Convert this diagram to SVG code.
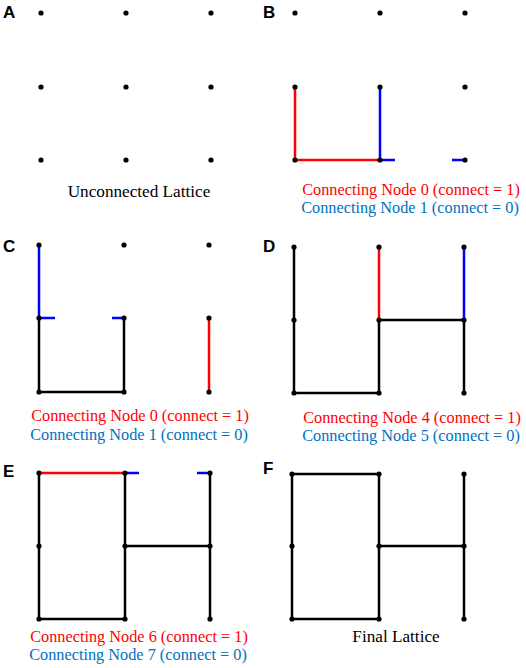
<svg xmlns="http://www.w3.org/2000/svg" width="526" height="668" viewBox="0 0 526 668">
<style>
.lbl{font-family:"Liberation Sans",Arial,sans-serif;font-weight:bold;font-size:17px;fill:#000}
.cap{font-family:"Liberation Serif","Times New Roman",serif;font-size:16.3px;text-anchor:middle}
.big{font-size:17.2px}
.r{fill:#ff0000}.b{fill:#0070c0}.k{fill:#000}
.e{stroke-width:2.5;stroke-linecap:butt;fill:none}
.ek{stroke:#000}.er{stroke:#ff0000}.eb{stroke:#0000ff}
.d{fill:#000}
</style>
<defs><circle id="dot" r="2.6" class="d"/></defs>
<g id="panelA">
<text class="lbl" x="3" y="18">A</text>
<g id="nodesA">
<use href="#dot" x="41" y="13"/><use href="#dot" x="126" y="13"/><use href="#dot" x="211" y="13"/>
<use href="#dot" x="41" y="87"/><use href="#dot" x="126" y="87"/><use href="#dot" x="211" y="87"/>
<use href="#dot" x="41" y="160"/><use href="#dot" x="126" y="160"/><use href="#dot" x="211" y="160"/>
</g>
<text class="cap big k" x="139" y="197">Unconnected Lattice</text>
</g>
<g id="panelB">
<text class="lbl" x="263" y="18">B</text>
<g id="connectorsB">
<polyline class="e er" points="295,87 295,160 380,160"/>
<polyline class="e eb" points="380,87 380,160 395,160"/>
<line class="e eb" x1="452" y1="160" x2="465" y2="160"/>
</g>
<g id="nodesB">
<use href="#dot" x="295" y="13"/><use href="#dot" x="380" y="13"/><use href="#dot" x="465" y="13"/>
<use href="#dot" x="295" y="87"/><use href="#dot" x="380" y="87"/><use href="#dot" x="465" y="87"/>
<use href="#dot" x="295" y="160"/><use href="#dot" x="380" y="160"/><use href="#dot" x="465" y="160"/>
</g>
<text class="cap r" x="411" y="195">Connecting Node 0 (connect = 1)</text>
<text class="cap b" x="410" y="213">Connecting Node 1 (connect = 0)</text>
</g>
<g id="panelC">
<text class="lbl" x="3" y="252">C</text>
<g id="connectorsC">
<polyline class="e eb" points="39,245 39,318 55,318"/>
<line class="e eb" x1="112" y1="318" x2="124" y2="318"/>
<polyline class="e ek" points="39,318 39,392 124,392 124,318"/>
<line class="e er" x1="209" y1="318" x2="209" y2="392"/>
</g>
<g id="nodesC">
<use href="#dot" x="39" y="245"/><use href="#dot" x="124" y="245"/><use href="#dot" x="209" y="245"/>
<use href="#dot" x="39" y="318"/><use href="#dot" x="124" y="318"/><use href="#dot" x="209" y="318"/>
<use href="#dot" x="39" y="392"/><use href="#dot" x="124" y="392"/><use href="#dot" x="209" y="392"/>
</g>
<text class="cap r" x="140" y="421">Connecting Node 0 (connect = 1)</text>
<text class="cap b" x="139" y="440">Connecting Node 1 (connect = 0)</text>
</g>
<g id="panelD">
<text class="lbl" x="263" y="252">D</text>
<g id="connectorsD">
<polyline class="e ek" points="294,247 294,393 379,393 379,320 464,320 464,393"/>
<line class="e er" x1="379" y1="247" x2="379" y2="320"/>
<line class="e eb" x1="464" y1="247" x2="464" y2="320"/>
</g>
<g id="nodesD">
<use href="#dot" x="294" y="247"/><use href="#dot" x="379" y="247"/><use href="#dot" x="464" y="247"/>
<use href="#dot" x="294" y="320"/><use href="#dot" x="379" y="320"/><use href="#dot" x="464" y="320"/>
<use href="#dot" x="294" y="393"/><use href="#dot" x="379" y="393"/><use href="#dot" x="464" y="393"/>
</g>
<text class="cap r" x="412" y="423">Connecting Node 4 (connect = 1)</text>
<text class="cap b" x="411" y="441">Connecting Node 5 (connect = 0)</text>
</g>
<g id="panelE">
<text class="lbl" x="3" y="477">E</text>
<g id="connectorsE">
<polyline class="e ek" points="39,473 39,619 125,619 125,473"/>
<line class="e ek" x1="125" y1="546" x2="210" y2="546"/>
<line class="e ek" x1="210" y1="473" x2="210" y2="619"/>
<line class="e er" x1="39" y1="473" x2="125" y2="473"/>
<line class="e eb" x1="125" y1="473" x2="139" y2="473"/>
<line class="e eb" x1="197" y1="473" x2="210" y2="473"/>
</g>
<g id="nodesE">
<use href="#dot" x="39" y="473"/><use href="#dot" x="125" y="473"/><use href="#dot" x="210" y="473"/>
<use href="#dot" x="39" y="546"/><use href="#dot" x="125" y="546"/><use href="#dot" x="210" y="546"/>
<use href="#dot" x="39" y="619"/><use href="#dot" x="125" y="619"/><use href="#dot" x="210" y="619"/>
</g>
<text class="cap r" x="139" y="642">Connecting Node 6 (connect = 1)</text>
<text class="cap b" x="138" y="660">Connecting Node 7 (connect = 0)</text>
</g>
<g id="panelF">
<text class="lbl" x="263" y="474">F</text>
<g id="connectorsF">
<rect class="e ek" x="292" y="474" width="87" height="145"/>
<line class="e ek" x1="379" y1="546" x2="464" y2="546"/>
<line class="e ek" x1="464" y1="474" x2="464" y2="619"/>
</g>
<g id="nodesF">
<use href="#dot" x="292" y="474"/><use href="#dot" x="379" y="474"/><use href="#dot" x="464" y="474"/>
<use href="#dot" x="292" y="546"/><use href="#dot" x="379" y="546"/><use href="#dot" x="464" y="546"/>
<use href="#dot" x="292" y="619"/><use href="#dot" x="379" y="619"/><use href="#dot" x="464" y="619"/>
</g>
<text class="cap big k" x="396" y="642">Final Lattice</text>
</g>
</svg>
